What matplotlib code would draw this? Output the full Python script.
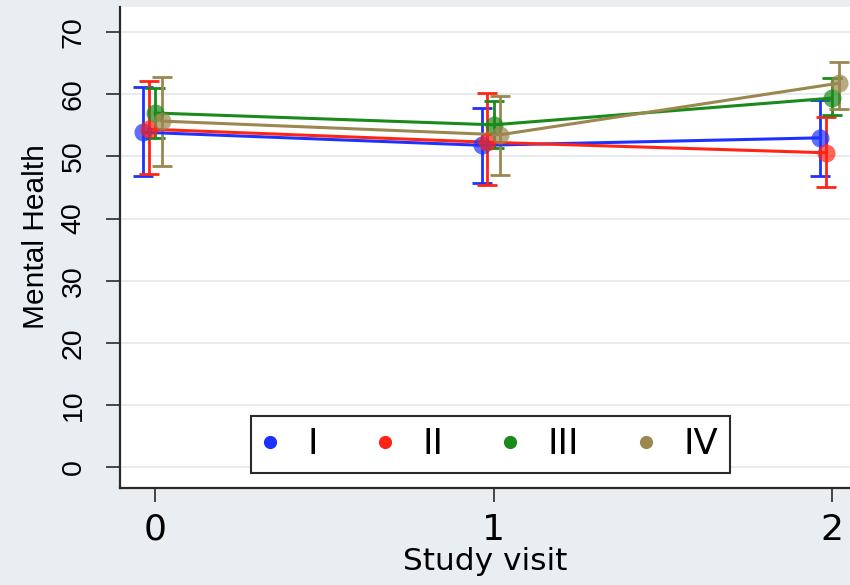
import matplotlib

matplotlib.use("Agg")
import matplotlib.pyplot as plt
from matplotlib.lines import Line2D
import numpy as np

# data: mean and CI bounds per group at each study visit
VISITS = [0, 1, 2]
GROUPS = ["I", "II", "III", "IV"]

I_MEAN = [53.9, 51.8, 53.0]
I_LO = [46.9, 45.7, 46.9]
I_HI = [61.2, 57.8, 59.1]

II_MEAN = [54.4, 52.3, 50.6]
II_LO = [47.2, 45.4, 45.1]
II_HI = [62.2, 60.2, 56.4]

III_MEAN = [57.0, 55.1, 59.4]
III_LO = [53.0, 51.3, 56.7]
III_HI = [61.0, 58.9, 62.6]

IV_MEAN = [55.7, 53.5, 61.8]
IV_LO = [48.5, 47.0, 57.6]
IV_HI = [62.8, 59.7, 65.2]

# style
BG = "#e8eef2"
COLORS = ["#1e32ff", "#ff2414", "#1a8a1a", "#9a8850"]
DODGE = [-0.035, -0.019, 0.0, 0.02]
AX_COL = "#2a2a2a"

series = [
    (I_MEAN, I_LO, I_HI),
    (II_MEAN, II_LO, II_HI),
    (III_MEAN, III_LO, III_HI),
    (IV_MEAN, IV_LO, IV_HI),
]

fig = plt.figure(figsize=(8.5, 5.85), dpi=100, facecolor=BG)
ax = fig.add_axes([120 / 850, 97 / 585, 730 / 850, 481 / 585])
ax.set_facecolor("white")

x = np.array(VISITS, dtype=float)
for (m, lo, hi), c, d in zip(series, COLORS, DODGE):
    m = np.array(m)
    err = [m - np.array(lo), np.array(hi) - m]
    ax.errorbar(x + d, m, yerr=err, fmt="none", ecolor=c, elinewidth=2,
                capsize=7, capthick=2, zorder=3)
    ax.plot(x + d, m, color=c, lw=2.2, zorder=4)
    ax.plot(x + d, m, "o", color=c, ms=13, alpha=0.7, mec="none", zorder=5)

ax.set_xlim(-0.1034, 2.053)
ax.set_ylim(-3.38, 74.07)
ax.set_xticks(VISITS)
ax.set_xticklabels([str(v) for v in VISITS], fontsize=26, family="DejaVu Sans")
ax.set_yticks(range(0, 71, 10))
ax.set_yticklabels([str(v) for v in range(0, 71, 10)], fontsize=20.5,
                   family="Liberation Sans", rotation=90, va="center")

ax.yaxis.grid(True, color="#e4eaee", lw=1.3)
ax.set_axisbelow(True)
for s in ("top", "right"):
    ax.spines[s].set_visible(False)
for s in ("left", "bottom"):
    ax.spines[s].set_color(AX_COL)
    ax.spines[s].set_linewidth(1.6)
ax.tick_params(axis="both", length=10, width=1.2, color=AX_COL)
ax.tick_params(axis="y", pad=14)
ax.tick_params(axis="x", pad=8)

ax.set_xlabel("Study visit", fontsize=22.5, family="DejaVu Sans", labelpad=0)
ax.set_ylabel("Mental Health", fontsize=21.5, family="Liberation Sans")
ax.yaxis.set_label_coords(-0.096, 0.522)

handles = [Line2D([], [], ls="none", marker="o", ms=8.5, color=c) for c in COLORS]
leg = ax.legend(handles, GROUPS, loc="center", ncol=4,
                bbox_to_anchor=(490.5 / 850, 1 - 444.5 / 585),
                bbox_transform=fig.transFigure,
                prop={"family": "DejaVu Sans", "size": 25.5},
                handlelength=0.4, handletextpad=0.85, columnspacing=1.7,
                borderpad=0.32, fancybox=False, framealpha=1)
leg.get_frame().set_edgecolor(AX_COL)
leg.get_frame().set_linewidth(1.5)

fig.savefig("out.png", dpi=100, facecolor=BG)
